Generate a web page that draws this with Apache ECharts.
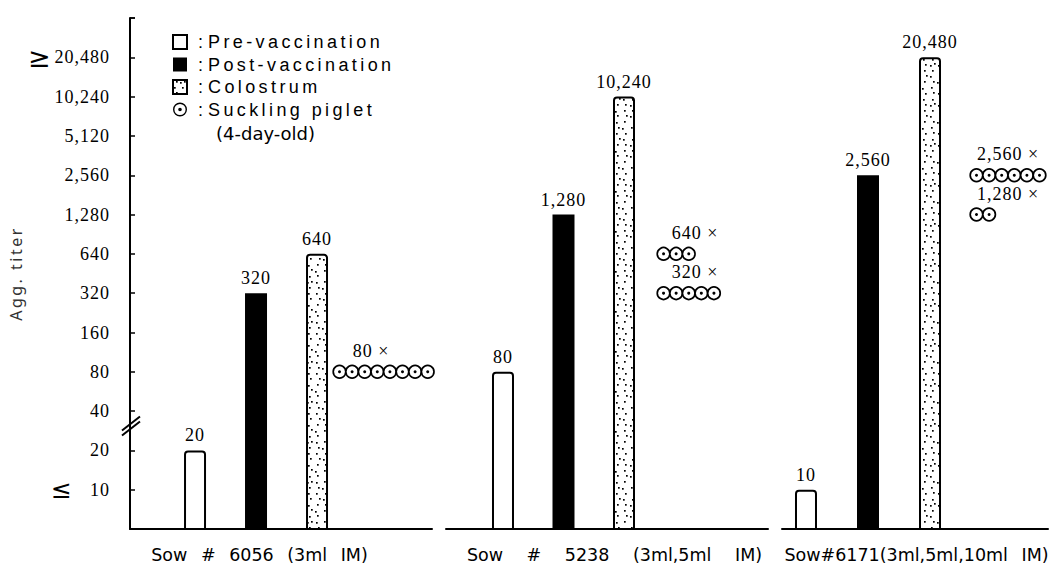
<!DOCTYPE html>
<html>
<head>
<meta charset="utf-8">
<script src="https://cdn.jsdelivr.net/npm/echarts@6/dist/echarts.min.js"></script>
<style>
html, body { margin: 0; padding: 0; background: #fff; }
#chart { width: 1052px; height: 572px; }
#chart text[style*="Liberation Sans"] { letter-spacing: 3.4px; }
#chart text[style*="Liberation Serif"] { letter-spacing: 1px; }
#chart text[style*="DejaVu Sans"] { word-spacing: 8px; }
#chart text[style*="Verdana"] { word-spacing: 18px; }
#chart text[style*="Noto Sans"] { letter-spacing: 2.5px; }
</style>
</head>
<body>
<div id="chart"></div>
<script>
// ---------------- data ----------------
const sowLabels = ['Sow # 6056 (3ml IM)', 'Sow # 5238 (3ml,5ml IM)', 'Sow#6171(3ml,5ml,10ml IM)'];
const titerSeries = ['Pre-vaccination', 'Post-vaccination', 'Colostrum'];
const preVaccination = [20, 80, 10];
const postVaccination = [320, 1280, 2560];
const colostrum = [640, 10240, 20480];
const pigletSow = [0, 1, 1, 2, 2];
const pigletTiter = [80, 640, 320, 2560, 1280];
const pigletCount = [8, 3, 5, 6, 2];
const yTickValues = [10, 20, 40, 80, 160, 320, 640, 1280, 2560, 5120, 10240, 20480];
const pigletLegend = 'Suckling piglet';
const pigletNote = '(4-day-old)';
const yAxisTitle = 'Agg. titer';

// ---------------- layout ----------------
const gridBoxes = [{ left: 130, width: 302 }, { left: 446, width: 322 }, { left: 782, width: 266 }];
const xRanges = [[-1.066, 3.885], [-0.942, 4.38], [-0.387, 3.903]];
const pigletAnchor = [2.262, 2.546, 2.645];
const namePads = [[0, 43, 0, 0], [0, 0, 0, 15], [0, 0, 0, 3]];
const nameFonts = ['"DejaVu Sans", sans-serif', '"DejaVu Sans", Verdana, sans-serif', '"DejaVu Sans", sans-serif'];
const SERIF = '"Liberation Serif", serif';
const SANS = '"Liberation Sans", sans-serif';

const fmt = v => Number(v).toLocaleString('en-US');

function stipple() {
  const W = 30, H = 40;
  const c = document.createElement('canvas');
  c.width = W; c.height = H;
  const ctx = c.getContext('2d');
  ctx.fillStyle = '#fff'; ctx.fillRect(0, 0, W, H);
  ctx.fillStyle = '#000';
  const a1 = 0.7548776662, a2 = 0.5698402910;
  for (let i = 1; i <= 30; i++) {
    const x = ((0.5 + a1 * i) % 1) * W;
    const y = ((0.5 + a2 * i) % 1) * H;
    ctx.fillRect(Math.floor(x), Math.floor(y), 1.7, 1.7);
  }
  return c;
}
const stippleCanvas = stipple();

const seriesValues = [preVaccination, postVaccination, colostrum];
const barStyles = [
  { color: '#fff', borderColor: '#000', borderWidth: 2, borderRadius: [3, 3, 0, 0] },
  { color: '#000', borderColor: '#000', borderWidth: 0 },
  { color: { image: stippleCanvas, repeat: 'repeat', imageWidth: 30, imageHeight: 40 }, borderColor: '#000', borderWidth: 2, borderRadius: [3, 3, 0, 0] }
];

function yLabel(v) {
  let best = null;
  yTickValues.forEach(t => { if (Math.abs(Math.log2(v / t)) < 0.02) best = t; });
  if (best === null) return '';
  if (best === 20480) return '{ge|≥}' + fmt(best);
  if (best === 10) return '{le|≤}' + fmt(best);
  return fmt(best);
}

const ringPath = 'path://M0,-10A10,10 0 1,1 0,10A10,10 0 1,1 0,-10ZM0,-8A8,8 0 1,0 0,8A8,8 0 1,0 0,-8ZM0,-2.6A2.6,2.6 0 1,1 0,2.6A2.6,2.6 0 1,1 0,-2.6Z';

const grids = [], xAxes = [], yAxes = [], series = [];
for (let g = 0; g < 3; g++) {
  grids.push({ left: gridBoxes[g].left, width: gridBoxes[g].width, top: 18, bottom: 43, containLabel: false });
  xAxes.push({
    type: 'value', gridIndex: g, min: xRanges[g][0], max: xRanges[g][1], z: 5,
    axisLine: { show: true, onZero: false, lineStyle: { color: '#000', width: 2 } },
    axisTick: { show: false }, axisLabel: { show: false }, splitLine: { show: false },
    name: sowLabels[g], nameLocation: 'middle', nameGap: 17,
    nameTextStyle: { fontFamily: nameFonts[g], fontSize: 17.5, color: '#000', padding: namePads[g] }
  });
  yAxes.push({
    type: 'log', logBase: 2, gridIndex: g, min: 5, max: 40960, interval: 1, show: g === 0,
    axisLine: { show: true, onZero: false, lineStyle: { color: '#000', width: 2 } },
    axisTick: { show: true, inside: true, length: 5, lineStyle: { color: '#000', width: 1.5 } },
    splitLine: { show: false },
    axisLabel: {
      margin: 20, formatter: yLabel, fontFamily: SERIF, fontSize: 18, color: '#000',
      rich: {
        ge: { fontFamily: '"DejaVu Sans", sans-serif', fontSize: 27, padding: [0, 10, 0, 0], color: '#000' },
        le: { fontFamily: '"DejaVu Sans", sans-serif', fontSize: 25, padding: [0, 20, 0, 0], color: '#000' }
      }
    },
    name: g === 0 ? yAxisTitle : '', nameLocation: 'middle', nameGap: 100,
    nameTextStyle: { fontFamily: '"Noto Sans", sans-serif', fontSize: 16, color: '#333' }
  });
  for (let t = 0; t < 3; t++) {
    series.push({
      type: 'bar', name: titerSeries[t], xAxisIndex: g, yAxisIndex: g,
      data: [[t, seriesValues[t][g]]], barWidth: 22, barGap: '-100%', clip: true,
      itemStyle: barStyles[t], silent: true,
      label: { show: true, position: 'top', distance: 6, formatter: p => fmt(p.value[1]),
        fontFamily: SERIF, fontSize: 18, color: '#000' }
    });
  }
  const pData = [];
  pigletSow.forEach((s, k) => { if (s === g) pData.push([pigletAnchor[g], pigletTiter[k], pigletCount[k]]); });
  series.push({
    type: 'custom', name: pigletLegend, xAxisIndex: g, yAxisIndex: g, silent: true,
    itemStyle: { color: '#000' }, data: pData,
    renderItem: (params, api) => {
      const p = api.coord([api.value(0), api.value(1)]);
      const n = api.value(2), titer = api.value(1);
      const ch = [];
      for (let i = 0; i < n; i++) {
        const cx = p[0] + 6.5 + i * 12.6;
        ch.push({ type: 'circle', shape: { cx: cx, cy: p[1], r: 6.3 }, style: { fill: '#fff', stroke: '#000', lineWidth: 1.7 } });
        ch.push({ type: 'circle', shape: { cx: cx, cy: p[1], r: 1.5 }, style: { fill: '#000' } });
      }
      ch.push({ type: 'text', x: p[0] + 38, y: p[1] - 21,
        style: { text: fmt(titer) + ' ×', fill: '#000', font: '18px "Liberation Serif", serif', align: 'center', verticalAlign: 'middle' } });
      return { type: 'group', children: ch };
    }
  });
}

const chart = echarts.init(document.getElementById('chart'), null, { renderer: 'svg' });
const noteGraphic = { id: 'note', type: 'text', left: 216, top: 124,
  style: { text: pigletNote, font: '18px "DejaVu Sans", sans-serif', fill: '#000' } };
chart.setOption({
  animation: false,
  backgroundColor: '#fff',
  grid: grids, xAxis: xAxes, yAxis: yAxes, series: series,
  legend: {
    orient: 'vertical', left: 172, top: 33, padding: 0, itemWidth: 14, itemHeight: 14, itemGap: 4.5, selectedMode: false,
    data: titerSeries.map(n => ({ name: n, icon: 'rect' })).concat([{ name: pigletLegend, icon: ringPath }]),
    formatter: n => '{c|:}{t|' + n + '}',
    textStyle: {
      color: '#000',
      rich: {
        c: { fontFamily: SANS, fontSize: 18, padding: [0, 5, 0, 6], color: '#000' },
        t: { fontFamily: SANS, fontSize: 18, color: '#000' }
      }
    }
  },
  graphic: [noteGraphic]
});

const ax = gridBoxes[0].left;
const by = chart.convertToPixel({ yAxisIndex: 0 }, 31);
chart.setOption({
  graphic: [
    noteGraphic,
    { id: 'brk1', type: 'line', shape: { x1: ax - 8, y1: by + 5, x2: ax + 10, y2: by - 9 }, style: { stroke: '#000', lineWidth: 2 }, z: 10 },
    { id: 'brk2', type: 'line', shape: { x1: ax - 8, y1: by + 10, x2: ax + 10, y2: by - 4 }, style: { stroke: '#000', lineWidth: 2 }, z: 10 }
  ]
});
</script>
</body>
</html>
